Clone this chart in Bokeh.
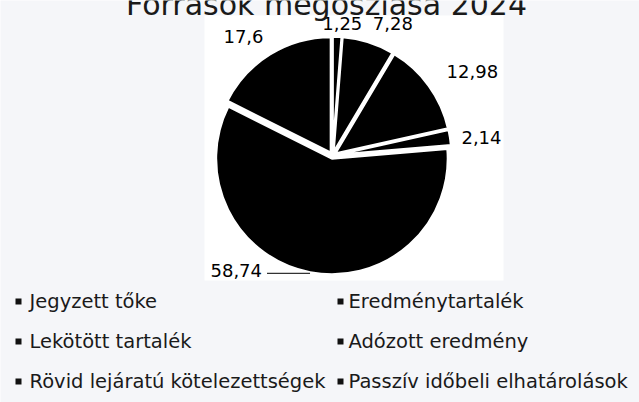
import math
from bokeh.plotting import figure
from bokeh.models import ColumnDataSource, Range1d, BoxAnnotation
from bokeh.core.properties import value
from bokeh.embed import file_html
from bokeh.resources import INLINE

# ---- data ----
title_text = "Források megoszlása 2024"
categories = [
    "Jegyzett tőke",
    "Eredménytartalék",
    "Lekötött tartalék",
    "Adózott eredmény",
    "Rövid lejáratú kötelezettségek",
    "Passzív időbeli elhatárolások",
]
shares = [1.25, 7.28, 12.98, 2.14, 58.74, 17.6]

# ---- layout (page pixel coordinates; y measured from top) ----
W, H = 639, 402
def Y(py):
    return H - py

cx, cy = 332, 155          # pie centre
R = 116                    # pie radius
explode = 3
label_r = [132, 145, 163, 150, None, 149]
label_nudge = [-2, -7, -5, -2, 0, 5]
FONT = "DejaVu Sans"

p = figure(width=W, height=H, output_backend="svg", toolbar_location=None,
           x_range=Range1d(0, W), y_range=Range1d(0, H),
           min_border=0, title=None)
p.axis.visible = False
p.grid.visible = False
p.outline_line_color = None
p.background_fill_color = "#f5f6f9"
p.border_fill_color = "#f5f6f9"

# white chart panel
p.add_layout(BoxAnnotation(left=204, right=503, top=Y(15), bottom=Y(280),
                           fill_color="white", fill_alpha=1.0, line_color=None,
                           level="underlay"))

# ---- pie ----
total = sum(shares)
starts, ends, xs, ys, bis = [], [], [], [], []
cum = 0.0
for v in shares:
    a_start = math.pi / 2 - 2 * math.pi * (cum + v) / total
    a_end = math.pi / 2 - 2 * math.pi * cum / total
    mid = (a_start + a_end) / 2
    starts.append(a_start)
    ends.append(a_end)
    bis.append(mid)
    xs.append(cx + explode * math.cos(mid))
    ys.append(Y(cy) + explode * math.sin(mid))
    cum += v

src = ColumnDataSource(dict(x=xs, y=ys, start=starts, end=ends))
p.wedge(x="x", y="y", radius=R, start_angle="start", end_angle="end",
        fill_color="black", line_color="white", line_width=2.5, source=src)

# ---- data labels ----
lab_txt = [f"{v:g}".replace(".", ",") for v in shares]
lx, ly, lt = [], [], []
for i, v in enumerate(shares):
    if label_r[i] is None:
        continue
    a = bis[i] + math.radians(label_nudge[i])
    lx.append(cx + label_r[i] * math.cos(a))
    ly.append(Y(cy) + label_r[i] * math.sin(a))
    lt.append(lab_txt[i])
p.text(x=lx, y=ly, text=lt, text_font=value(FONT), text_font_size="18px",
       text_color="black", text_align="center", text_baseline="middle")

# leader-line label for the largest slice
big = shares.index(max(shares))
ex = cx + (R + explode) * math.cos(bis[big])
ey = Y(cy) + (R + explode) * math.sin(bis[big])
p.line(x=[ex, ex - 43], y=[ey - 1, ey - 1], line_color="#333333", line_width=1.3)
p.text(x=[ex - 48], y=[ey + 2], text=[lab_txt[big]], text_font=value(FONT),
       text_font_size="18px", text_color="black", text_align="right",
       text_baseline="middle")

# ---- title (cut off by the top edge as in the original) ----
p.text(x=[326], y=[Y(4)], text=[title_text], text_font=value(FONT),
       text_font_size="30px", text_color="#1a1a1a", text_align="center",
       text_baseline="middle")

# ---- legend ----
col_marker_x = [18, 340]
col_text_x = [29, 348]
row_y = [301, 341, 381]
mx, my, tx, ty = [], [], [], []
for i, name in enumerate(categories):
    r, c = divmod(i, 2)
    mx.append(col_marker_x[c]); my.append(Y(row_y[r]))
    tx.append(col_text_x[c]); ty.append(Y(row_y[r]))
p.scatter(x=mx, y=my, marker="square", size=6, fill_color="#111111",
          line_color=None)
p.text(x=tx, y=ty, text=categories, text_font=value(FONT),
       text_font_size="19.5px", text_color="#1a1a1a", text_align="left",
       text_baseline="middle")

open("out.html", "w").write(file_html(p, INLINE))
